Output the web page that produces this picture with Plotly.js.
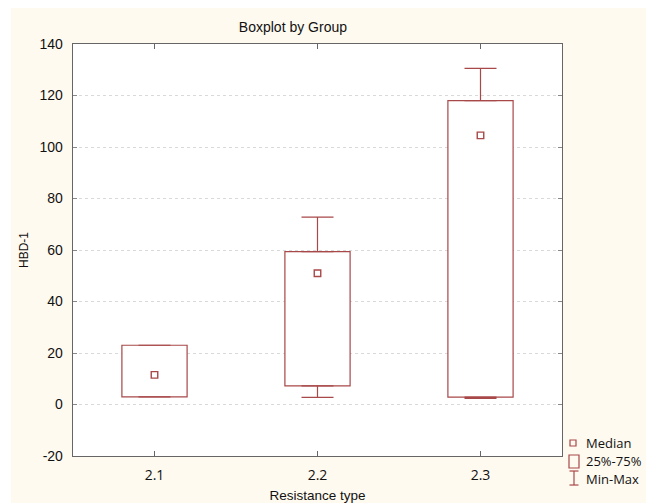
<!DOCTYPE html>
<html>
<head>
<meta charset="utf-8">
<script src="https://cdn.plot.ly/plotly-3.0.1.min.js"></script>
<style>
  html, body { margin: 0; padding: 0; background: #ffffff; width: 646px; height: 503px; overflow: hidden; }
  #chart { position: absolute; left: 11px; top: 8px; width: 635px; height: 495px; }
</style>
</head>
<body>
<div id="chart"></div>
<script>
// Data
const categories = ['2.1', '2.2', '2.3'];
const mins    = [3.0, 2.8, 2.4];
const q1      = [3.0, 7.2, 2.9];
const medians = [11.5, 51.0, 104.5];
const q3      = [23.0, 59.4, 118.0];
const maxs    = [23.0, 72.8, 130.5];
const yTicks  = [-20, 0, 20, 40, 60, 80, 100, 120, 140];

const RED = '#a84848';

const boxHeights = q3.map((v, i) => v - q1[i]);
const upperLen = maxs.map((v, i) => v - q3[i]);
const lowerLen = q1.map((v, i) => v - mins[i]);
const zeros = categories.map(() => 0);

const traces = [
  {
    type: 'bar', x: categories, y: boxHeights, base: q1, width: 0.4,
    marker: { color: '#ffffff', line: { color: RED, width: 1.2 } },
    hoverinfo: 'skip', showlegend: false
  },
  {
    type: 'scatter', mode: 'markers', x: categories, y: q3,
    marker: { size: 1, color: 'rgba(0,0,0,0)' },
    error_y: { type: 'data', symmetric: false, array: upperLen, arrayminus: zeros,
               color: RED, thickness: 1.2, width: 16 },
    showlegend: false, hoverinfo: 'skip'
  },
  {
    type: 'scatter', mode: 'markers', x: categories, y: q1,
    marker: { size: 1, color: 'rgba(0,0,0,0)' },
    error_y: { type: 'data', symmetric: false, array: zeros, arrayminus: lowerLen,
               color: RED, thickness: 1.2, width: 16 },
    showlegend: false, hoverinfo: 'skip'
  },
  {
    type: 'scatter', mode: 'markers', x: categories, y: medians,
    marker: { symbol: 'square-open', size: 6.5, color: RED, line: { color: RED, width: 1.4 } },
    showlegend: false, hoverinfo: 'skip'
  }
];

const PX = X => (X - 73) / 489;
const PY = Y => (456 - Y) / 411.7;

const legendShapes = [
  { type: 'rect', xref: 'paper', yref: 'paper', x0: PX(570), x1: PX(576), y0: PY(446), y1: PY(440),
    line: { color: RED, width: 1.2 }, fillcolor: 'rgba(0,0,0,0)' },
  { type: 'rect', xref: 'paper', yref: 'paper', x0: PX(569), x1: PX(579), y0: PY(468), y1: PY(455),
    line: { color: RED, width: 1.2 }, fillcolor: 'rgba(0,0,0,0)' },
  { type: 'line', xref: 'paper', yref: 'paper', x0: PX(574), x1: PX(574), y0: PY(485), y1: PY(471),
    line: { color: RED, width: 1.2 } },
  { type: 'line', xref: 'paper', yref: 'paper', x0: PX(569.5), x1: PX(578.5), y0: PY(471), y1: PY(471),
    line: { color: RED, width: 1.2 } },
  { type: 'line', xref: 'paper', yref: 'paper', x0: PX(569.5), x1: PX(578.5), y0: PY(485), y1: PY(485),
    line: { color: RED, width: 1.2 } }
];

const legendFont = { family: 'Open Sans, DejaVu Sans, sans-serif', size: 13, color: '#111' };
const legendAnn = [
  { text: 'Median', y: PY(443) },
  { text: '25%-75%', y: PY(461) },
  { text: 'Min-Max', y: PY(479) }
].map(a => ({
  text: a.text, xref: 'paper', yref: 'paper', x: PX(584), y: a.y,
  xanchor: 'left', yanchor: 'middle', showarrow: false, font: legendFont
}));

const layout = {
  width: 635, height: 495,
  margin: { l: 62, r: 84, t: 36, b: 47 },
  paper_bgcolor: '#fffaf0',
  plot_bgcolor: '#ffffff',
  showlegend: false,
  title: {
    text: 'Boxplot by Group',
    font: { family: 'Liberation Sans, Arial, sans-serif', size: 14, color: '#111' },
    xref: 'container', x: 0.444, xanchor: 'center',
    yref: 'container', y: 0.962, yanchor: 'middle'
  },
  xaxis: {
    type: 'category', range: [-0.5, 2.5],
    showgrid: false, zeroline: false,
    showline: true, linecolor: '#666', linewidth: 1.3, mirror: 'ticks',
    ticks: 'inside', ticklen: 5, tickcolor: '#666', tickwidth: 1,
    tickfont: { family: 'Open Sans, DejaVu Sans, sans-serif', size: 14, color: '#111' },
    ticklabelstandoff: 6,
    title: { text: 'Resistance type', standoff: 8,
             font: { family: 'Liberation Sans, Arial, sans-serif', size: 13.5, color: '#111' } }
  },
  yaxis: {
    range: [-20, 140], tickvals: yTicks, ticktext: yTicks.map(String),
    showgrid: true, gridcolor: '#d9d9d9', griddash: 'dot', gridwidth: 1,
    zeroline: false,
    showline: true, linecolor: '#666', linewidth: 1.3, mirror: 'ticks',
    ticks: 'inside', ticklen: 4, tickcolor: '#888', tickwidth: 1,
    tickfont: { family: 'Liberation Sans, Arial, sans-serif', size: 14, color: '#111' },
    ticklabelstandoff: 6,
    title: { text: 'HBD-1', standoff: 8,
             font: { family: 'Liberation Sans, Arial, sans-serif', size: 12, color: '#111' } }
  },
  shapes: legendShapes,
  annotations: legendAnn
};

Plotly.newPlot('chart', traces, layout, { staticPlot: true, displayModeBar: false });
</script>
</body>
</html>
